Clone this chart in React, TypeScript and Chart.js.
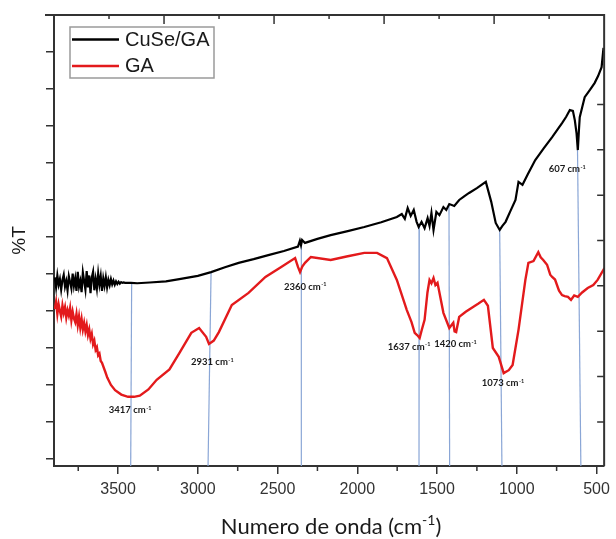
import React, { useEffect, useRef } from 'react';
import { Chart, registerables } from 'chart.js';
Chart.register(...registerables);

// ---- data (wavenumber cm-1, %T arbitrary units) ----
const CUSE_X = [3897, 3889, 3881, 3873, 3865, 3857, 3849, 3841, 3833, 3825, 3817, 3809, 3801, 3793, 3785, 3777, 3769, 3761, 3753, 3745, 3737, 3729, 3721, 3713, 3705, 3697, 3689, 3681, 3673, 3665, 3657, 3649, 3641, 3633, 3625, 3617, 3609, 3601, 3593, 3585, 3577, 3569, 3561, 3553, 3545, 3537, 3529, 3521, 3513, 3505, 3497, 3489, 3481, 3473, 3465, 3457,
  3419, 3380, 3302, 3200, 3116, 3000, 2917, 2830, 2744, 2650, 2558, 2460, 2372, 2360, 2353, 2346, 2328, 2250, 2167, 2060, 1956, 1850, 1752, 1721, 1702, 1684, 1665, 1646, 1628, 1615, 1597, 1578, 1559, 1547, 1535, 1522, 1504, 1485, 1460, 1442, 1423, 1392, 1361, 1330, 1299, 1250, 1194, 1160, 1132, 1107, 1090, 1070, 1040, 1008, 989, 964, 930, 884, 830, 778, 745, 716, 690, 667, 648, 636, 625, 617, 610, 605, 590, 574, 540, 512, 490, 468, 456];
const CUSE_Y = [4.91, 4.64, 4.96, 4.71, 4.86, 4.58, 4.84, 4.98, 4.66, 4.81, 4.56, 4.94, 4.78, 4.61, 5.01, 4.68, 4.88, 4.54, 5.06, 4.66, 4.81, 4.51, 5.04, 4.81, 4.58, 5.08, 4.64, 4.96, 4.48, 4.91, 5.06, 4.56, 4.86, 4.61, 5.01, 4.71, 4.94, 4.54, 4.88, 4.68, 4.91, 4.64, 4.84, 4.70, 4.86, 4.72, 4.82, 4.71, 4.80, 4.73, 4.79, 4.74, 4.78, 4.76, 4.77, 4.76,
  4.76, 4.75, 4.77, 4.8, 4.86, 4.95, 5.05, 5.18, 5.3, 5.4, 5.51, 5.62, 5.74, 5.9, 5.78, 5.92, 5.84, 5.95, 6.05, 6.16, 6.27, 6.4, 6.54, 6.62, 6.49, 6.78, 6.57, 6.73, 6.41, 6.27, 6.41, 6.24, 6.51, 6.3, 6.65, 6.19, 6.68, 6.59, 6.81, 6.73, 6.89, 6.84, 7.0, 7.1, 7.19, 7.32, 7.49, 6.95, 6.38, 6.19, 6.3, 6.41, 6.7, 7.0, 7.49, 7.41, 7.7, 8.08, 8.4, 8.7, 8.9, 9.08, 9.25, 9.43, 9.41, 9.16, 8.8, 8.35, 8.9, 9.24, 9.5, 9.78, 9.98, 10.16, 10.35, 10.59, 11.11];

const GA_X = [3897, 3889, 3881, 3873, 3865, 3857, 3849, 3841, 3833, 3825, 3817, 3809, 3801, 3793, 3785, 3777, 3769, 3761, 3753, 3745, 3737, 3729, 3721, 3713, 3705, 3697, 3689, 3681, 3673, 3665, 3657, 3649, 3641, 3633, 3625, 3617, 3609, 3601,
  3580, 3568, 3545, 3519, 3480, 3438, 3400, 3364, 3310, 3258, 3178, 3116, 3041, 2992, 2948, 2930, 2900, 2868, 2787, 2682, 2576, 2477, 2390, 2372, 2359, 2345, 2328, 2291, 2167, 2060, 1956, 1876, 1814, 1752, 1690, 1660, 1640, 1625, 1609, 1595, 1578, 1560, 1547, 1535, 1522, 1510, 1497, 1460, 1423, 1398, 1390, 1380, 1361, 1320, 1274, 1240, 1206, 1181, 1150, 1113, 1082, 1050, 1026, 989, 946, 927, 895, 865, 850, 834, 810, 790, 778, 760, 735, 716, 700, 679, 660, 640, 617, 590, 555, 520, 493, 450];
const GA_Y = [4.05, 4.25, 3.92, 4.18, 4.0, 3.85, 4.15, 3.95, 4.1, 3.82, 4.02, 3.88, 4.08, 3.75, 3.98, 3.8, 3.7, 3.92, 3.62, 3.85, 3.55, 3.78, 3.5, 3.68, 3.45, 3.62, 3.35, 3.5, 3.25, 3.38, 3.1, 3.2, 2.95, 3.02, 2.8, 2.85, 2.65, 2.6,
  2.35, 2.2, 2.0, 1.86, 1.74, 1.68, 1.68, 1.71, 1.88, 2.14, 2.42, 2.86, 3.41, 3.54, 3.3, 3.11, 3.2, 3.43, 4.16, 4.49, 4.92, 5.19, 5.43, 5.19, 5.05, 5.2, 5.3, 5.46, 5.38, 5.48, 5.57, 5.57, 5.43, 4.84, 4.03, 3.7, 3.41, 3.35, 3.27, 3.5, 3.76, 4.5, 4.84, 4.75, 4.89, 4.7, 4.76, 3.95, 3.54, 3.68, 3.45, 3.43, 3.84, 3.98, 4.11, 4.2, 4.3, 4.14, 3.0, 2.76, 2.32, 2.4, 2.54, 3.49, 4.84, 5.3, 5.35, 5.59, 5.45, 5.38, 5.25, 4.98, 4.92, 4.85, 4.55, 4.43, 4.4, 4.38, 4.3, 4.42, 4.38, 4.5, 4.62, 4.7, 4.84, 5.16];

const SERIES_LABELS = ['CuSe/GA', 'GA'];
const SERIES_COLORS = ['#000000', '#e31a1c'];

const PEAK_LABELS = ['3417', '2931', '2360', '1637', '1420', '1073', '607'];
const PEAK_TOP_X = [3415, 2917, 2351, 1611, 1425, 1107, 619];
const PEAK_TOP_Y = [4.76, 5.06, 5.84, 6.28, 6.86, 6.19, 8.35];
const PEAK_BASE_X = [3421, 2936, 2351, 1613, 1421, 1093, 598];
const PEAK_LABEL_X = [3426, 2911, 2328, 1677, 1386, 1088, 685];
const PEAK_LABEL_Y = [1.32, 2.62, 4.66, 3.04, 3.11, 2.05, 7.84];

const X_MIN = 452;
const X_MAX = 3902;
const Y_MIN = -0.19;
const Y_MAX = 12;
const X_TICKS = [3500, 3000, 2500, 2000, 1500, 1000, 500];
const X_MINOR_TICKS = [3750, 3250, 2750, 2250, 1750, 1250, 750];
const TOP_TICKS = [1, 2, 3, 4, 5, 6, 7, 8, 9];
const RIGHT_TICKS = [1, 2, 3, 4, 5, 6, 7, 8];

const AXIS_COLOR = '#333333';
const PEAK_LINE_COLOR = '#8aa6d6';

const framePlugin = {
  id: 'frameExtras',
  afterDraw(chart: any) {
    const ctx = chart.ctx;
    const a = chart.chartArea;
    const xs = chart.scales.x;
    const ys = chart.scales.y;
    const x2 = chart.scales.x2;
    const y2 = chart.scales.y2;
    ctx.save();
    ctx.strokeStyle = AXIS_COLOR;
    ctx.lineWidth = 2;
    ctx.beginPath();
    ctx.moveTo(a.left - 9, a.top);
    ctx.lineTo(a.right, a.top);
    ctx.lineTo(a.right, a.bottom);
    ctx.stroke();
    ctx.lineWidth = 1.5;
    ctx.beginPath();
    X_MINOR_TICKS.forEach((v) => {
      const px = xs.getPixelForValue(v);
      ctx.moveTo(px, a.bottom);
      ctx.lineTo(px, a.bottom + 5);
    });
    TOP_TICKS.forEach((v) => {
      const px = a.left + ((v - x2.min) / (x2.max - x2.min)) * (a.right - a.left);
      ctx.moveTo(px, a.top);
      ctx.lineTo(px, a.top + (v % 2 === 0 ? 9 : 4));
    });
    RIGHT_TICKS.forEach((v) => {
      const py = a.bottom - ((v - y2.min) / (y2.max - y2.min)) * (a.bottom - a.top);
      ctx.moveTo(a.right, py);
      ctx.lineTo(a.right - 7, py);
    });
    ctx.stroke();

    // peak labels
    ctx.fillStyle = '#1a1a1a';
    PEAK_LABELS.forEach((lab, i) => {
      const cx = xs.getPixelForValue(PEAK_LABEL_X[i]);
      const cy = ys.getPixelForValue(PEAK_LABEL_Y[i]);
      ctx.font = 'bold 9.5px Lato';
      const main = lab + ' cm';
      const w1 = ctx.measureText(main).width;
      ctx.font = 'bold 5.5px Lato';
      const w2 = ctx.measureText('-1').width;
      const start = cx - (w1 + w2) / 2;
      ctx.textBaseline = 'middle';
      ctx.textAlign = 'left';
      ctx.font = 'bold 9.5px Lato';
      ctx.fillText(main, start, cy);
      ctx.font = 'bold 5.5px Lato';
      ctx.fillText('-1', start + w1 + 0.5, cy - 2);
    });

    // legend
    const lx = a.left + 16;
    const ly = a.top + 12;
    ctx.strokeStyle = '#9a9a9a';
    ctx.lineWidth = 1.5;
    ctx.strokeRect(lx, ly, 144, 51);
    SERIES_LABELS.forEach((lab, i) => {
      const y = ly + 12.5 + i * 26.4;
      ctx.strokeStyle = SERIES_COLORS[i];
      ctx.lineWidth = 2.5;
      ctx.beginPath();
      ctx.moveTo(lx + 2, y);
      ctx.lineTo(lx + 49, y);
      ctx.stroke();
      ctx.fillStyle = '#1a1a1a';
      ctx.font = '20px "Liberation Sans"';
      ctx.textAlign = 'left';
      ctx.textBaseline = 'middle';
      ctx.fillText(lab, lx + 55, y + 1);
    });

    // x title with superscript
    const tx = (a.left + a.right) / 2 + 2;
    const ty = 527;
    ctx.fillStyle = '#1a1a1a';
    ctx.font = '22px Lato';
    const p1 = 'Numero de onda (cm';
    const p3 = ')';
    const w1 = ctx.measureText(p1).width;
    const w3 = ctx.measureText(p3).width;
    ctx.font = '14px Lato';
    const p2 = '-1';
    const w2 = ctx.measureText(p2).width;
    const sx = tx - (w1 + w2 + w3) / 2;
    ctx.textAlign = 'left';
    ctx.textBaseline = 'middle';
    ctx.font = '22px Lato';
    ctx.fillText(p1, sx, ty);
    ctx.font = '14px Lato';
    ctx.fillText(p2, sx + w1, ty - 7);
    ctx.font = '22px Lato';
    ctx.fillText(p3, sx + w1 + w2, ty);
    ctx.restore();
  },
};

export default function App() {
  const ref = useRef<HTMLCanvasElement | null>(null);
  useEffect(() => {
    document.body.style.margin = '0';
    if (!ref.current) return;
    const peakSets = PEAK_LABELS.map((lab, i) => ({
      label: 'peak ' + lab,
      data: [
        { x: PEAK_TOP_X[i], y: PEAK_TOP_Y[i] },
        { x: PEAK_BASE_X[i], y: Y_MIN },
      ],
      showLine: true,
      borderColor: PEAK_LINE_COLOR,
      borderWidth: 1.2,
      pointRadius: 0,
      tension: 0,
    }));
    const chart = new Chart(ref.current, {
      type: 'scatter',
      data: {
        datasets: [
          {
            label: SERIES_LABELS[0],
            data: CUSE_X.map((x, i) => ({ x, y: CUSE_Y[i] })),
            showLine: true,
            borderColor: SERIES_COLORS[0],
            borderWidth: 2.2,
            pointRadius: 0,
            tension: 0,
          },
          {
            label: SERIES_LABELS[1],
            data: GA_X.map((x, i) => ({ x, y: GA_Y[i] })),
            showLine: true,
            borderColor: SERIES_COLORS[1],
            borderWidth: 2.4,
            pointRadius: 0,
            tension: 0,
          },
          ...peakSets,
        ],
      },
      options: {
        animation: false,
        responsive: false,
        layout: { padding: { top: 15, right: 7, left: 0, bottom: 0 } },
        plugins: { legend: { display: false }, tooltip: { enabled: false } },
        scales: {
          x: {
            type: 'linear',
            position: 'bottom',
            reverse: true,
            min: X_MIN,
            max: X_MAX,
            afterFit: (s: any) => { s.height = 73; },
            afterBuildTicks: (s: any) => { s.ticks = X_TICKS.map((v) => ({ value: v })); },
            border: { color: AXIS_COLOR, width: 2 },
            grid: { drawOnChartArea: false, tickLength: 8, color: AXIS_COLOR, lineWidth: 1.5 },
            ticks: {
              padding: 6,
              color: '#333333',
              font: { family: '"Liberation Sans"', size: 16 },
              maxRotation: 0,
              autoSkip: false,
              callback: (v: any) => String(v),
            },
          },
          y: {
            type: 'linear',
            position: 'left',
            min: Y_MIN,
            max: Y_MAX,
            afterFit: (s: any) => { s.width = 54; },
            border: { color: AXIS_COLOR, width: 2 },
            grid: { drawOnChartArea: false, tickLength: 8, color: AXIS_COLOR, lineWidth: 1.5 },
            ticks: { stepSize: 1, includeBounds: false, display: false },
            title: {
              display: true,
              text: '%T',
              color: '#1a1a1a',
              font: { family: '"Liberation Sans"', size: 19 },
              padding: { top: 8, bottom: 0 },
            },
          },
          x2: { type: 'linear', position: 'top', display: false, min: 0, max: 10 },
          y2: { type: 'linear', position: 'right', display: false, min: 0.03, max: 9.97 },
        },
      },
      plugins: [framePlugin],
    } as any);
    return () => chart.destroy();
  }, []);
  return (
    <div style={{ width: 616, height: 539, background: '#fff' }}>
      <canvas ref={ref} width={616} height={539} />
    </div>
  );
}
